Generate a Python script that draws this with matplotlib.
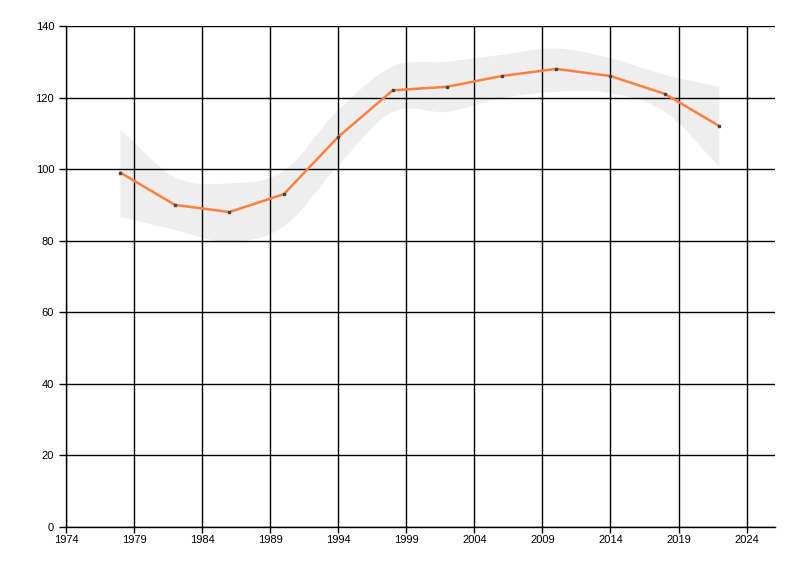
#!/usr/bin/env python3

from matplotlib import pyplot as plt
import numpy as np

years = [1978, 1982, 1986, 1990, 1994, 1998, 2002, 2006, 2010, 2014, 2018, 2022]
values = [99, 90, 88, 93, 109, 122, 123, 126, 128, 126, 121, 112]
upper = [111, 97.8, 96, 99.5, 116.5, 128.6, 130, 131.9, 133.7, 131, 126.3, 123]
lower = [86.7, 83, 79.7, 84, 101, 116, 116, 119.8, 121.6, 121.2, 116, 100.6]

x_ticks = [1974, 1979, 1984, 1989, 1994, 1999, 2004, 2009, 2014, 2019, 2024]
y_ticks = [0, 20, 40, 60, 80, 100, 120, 140]


def smooth(x, y, n=20):
    # catmull-rom curve through the band points
    x = np.asarray(x, float)
    y = np.asarray(y, float)
    px = np.concatenate([[2 * x[0] - x[1]], x, [2 * x[-1] - x[-2]]])
    py = np.concatenate([[2 * y[0] - y[1]], y, [2 * y[-1] - y[-2]]])
    xs, ys = [], []
    t = np.linspace(0, 1, n, endpoint=False)
    for i in range(1, len(px) - 2):
        for p, out in ((px, xs), (py, ys)):
            p0, p1, p2, p3 = p[i - 1], p[i], p[i + 1], p[i + 2]
            out.extend(0.5 * (2 * p1 + (-p0 + p2) * t
                              + (2 * p0 - 5 * p1 + 4 * p2 - p3) * t ** 2
                              + (-p0 + 3 * p1 - 3 * p2 + p3) * t ** 3))
    xs.append(x[-1])
    ys.append(y[-1])
    return np.array(xs), np.array(ys)


plt.rcParams['font.family'] = ['Liberation Sans', 'DejaVu Sans']
fig = plt.figure(figsize=(8, 5.76), dpi=100)
ax = fig.add_axes([0.0825, 0.085, 0.8865, 0.87])

ux, uy = smooth(years, upper)
lx, ly = smooth(years, lower)
ax.fill(np.concatenate([ux, lx[::-1]]), np.concatenate([uy, ly[::-1]]),
        color='#eeeeee', lw=0, zorder=1)
ax.plot(years, values, color='#ff7f3f', lw=1.8, zorder=3)
ax.plot(years, values, ls='none', marker='s', ms=2, color='#444444', zorder=4)

ax.set_xlim(1974, 2026.1)
ax.set_ylim(0, 140)
ax.set_xticks(x_ticks)
ax.set_yticks(y_ticks)
ax.grid(True, color='black', lw=1)
ax.set_axisbelow(False)
for l in ax.get_xgridlines() + ax.get_ygridlines():
    l.set_zorder(2)
ax.spines['top'].set_visible(False)
ax.spines['right'].set_visible(False)
ax.spines['left'].set_linewidth(1)
ax.spines['bottom'].set_linewidth(1)
ax.tick_params(axis='both', length=5, width=1, labelsize=8, color='black')
ax.tick_params(axis='x', length=4, pad=2)

plt.savefig('out.png', dpi=100)
